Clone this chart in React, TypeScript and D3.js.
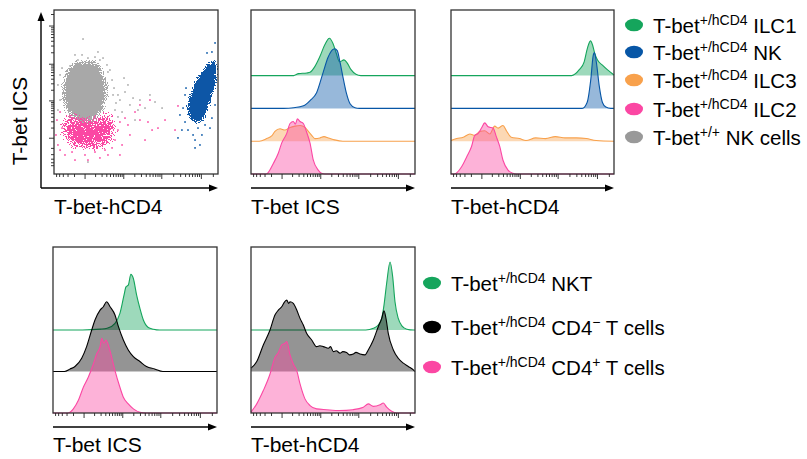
import React from 'react';
import * as d3 from 'd3';

type Pt = [number, number];

// histogram traces: [position on axis 0-100, height in % of two row heights]
const ILC1_ICS: Pt[] = [[0,0],[26,0],[29,3],[34,4],[36,5],[39,14],[42,29],[45,47],[47.8,57],[50,49],[52,34],[54,21],[56.7,24],[58.7,19],[61,9],[64,2],[67,0],[100,0]];
const NK_ICS: Pt[] = [[0,0],[20,0],[26,1],[32,4],[36,12],[40,24],[44,55],[47,78],[50,90],[51,91],[52.6,88],[54.3,70],[56.3,45],[58.3,22],[60.4,7],[63.4,1],[66,0],[100,0]];
const ILC3_ICS: Pt[] = [[0,0],[5,0],[9.6,4],[12.6,8],[14.6,15],[17.7,19],[20.7,17],[23.8,21],[26.8,23],[29.9,24],[32.9,21],[35,15],[37,9],[39,4],[42,5],[44.5,7],[47.2,5],[51,2],[56,0],[100,0]];
const ILC2_ICS: Pt[] = [[0,0],[9,0],[10,1],[13.6,16],[16.7,32],[18.7,47],[21.8,62],[23.8,77],[25.8,80],[27,76],[28.3,84],[29.9,80],[31.9,77],[33.9,64],[36,47],[38,21],[41,6],[43,1],[45,0],[100,0]];

const ILC1_HCD4: Pt[] = [[0,0],[74,0],[78.7,9],[81.7,21],[83.7,42],[85.6,53],[86.8,47],[88.2,34],[89.8,24],[92.9,16],[95.9,9],[100,1]];
const NK_HCD4: Pt[] = [[0,0],[80.5,0],[83.5,9],[85.8,45],[87.2,80],[88,85],[89.2,70],[90.9,35],[92.9,9],[95,2],[98,0],[100,0]];
const ILC3_HCD4: Pt[] = [[0,1],[3.5,4],[7.5,6],[11.6,11],[14.6,9],[17.7,15],[20.7,16],[23.8,11],[26.8,23],[28.9,20],[31.9,24],[34,16],[37,6],[42,4],[46,1],[52,5],[58,4],[64,7],[70,5],[77,5],[83,4],[89,1],[100,0]];
const ILC2_HCD4: Pt[] = [[0,0],[2,0],[6.5,11],[9.6,26],[12.6,42],[14.6,59],[16.7,62],[18.7,70],[20.7,78],[22.8,72],[25.8,70],[27.8,57],[29.9,42],[31.9,21],[35,6],[38,1],[40,0],[100,0]];

const NKT_ICS: Pt[] = [[0,0],[18,0],[29,1],[33,2],[37.8,8],[40.8,20],[43.3,42],[44.5,52],[45.9,54],[47.5,67],[49,62],[51,42],[53,26],[55.1,12],[58.1,3],[61.2,1],[65,0],[100,0]];
const CD4NEG_ICS: Pt[] = [[0,0],[7,0],[10.4,3],[13.4,6],[17.5,16],[20.5,30],[23.6,50],[25.6,62],[28.7,74],[30.7,78],[32.7,84],[34.8,78],[37.8,68],[39.9,54],[42.9,38],[45.9,26],[49,18],[53,12],[57,6],[62,3],[67,0],[100,0]];
const CD4POS_ICS: Pt[] = [[0,0],[9,0],[12.4,5],[15.4,15],[18.5,31],[21.5,43],[24.6,59],[26.6,71],[28.7,80],[29.7,90],[31.1,84],[32.3,88],[33.7,82],[35.8,67],[37.8,51],[40.8,31],[42.9,19],[45.9,11],[49,5],[53,1],[57,0],[100,0]];

const NKT_HCD4: Pt[] = [[0,0],[70,0],[74.6,2],[77.6,6],[79.7,14],[81.1,30],[82.7,56],[84.8,82],[86.4,64],[87.8,34],[89.8,14],[92,5],[95,1],[99,0],[100,0]];
const CD4NEG_HCD4: Pt[] = [[0,4],[3.5,12],[7.5,32],[11.6,50],[14.6,68],[16.7,74],[18.7,78],[20.5,84],[21.8,86],[23,82],[23.8,84],[25.8,82],[27.9,74],[29.9,64],[31.9,56],[33.9,46],[37,38],[40,30],[42,31],[44.1,30],[47.2,28],[48.5,30],[50.2,24],[52,25],[54.3,22],[56,24],[58.3,23],[60,20],[62.4,21],[64,23],[66.5,21],[69.5,20],[71.5,26],[74.6,38],[77.6,54],[79.7,64],[81.1,73],[82.3,64],[83.7,46],[86.8,26],[89.8,16],[92.9,10],[95.9,6],[99,2],[100,0]];
const CD4POS_HCD4: Pt[] = [[0,1],[3.5,11],[7.5,27],[11.6,47],[14.6,67],[16.7,73],[18.7,82],[20.7,84],[21.8,86],[23.8,70],[25.8,59],[27.9,51],[29.9,35],[32.9,17],[36,9],[40,5],[46,4],[54,3],[62,4],[68.5,7],[71.5,11],[74.6,8],[78.7,10],[80.7,12],[82.7,7],[85.8,2],[88.8,0],[100,0]];

// scatter (T-bet-hCD4 vs T-bet ICS), axis units 0-100
const NKCELLS_CORE: Pt[] = [[17.7,69.3],[23.2,69.3],[28,66.2],[31.6,58.5],[32.8,50],[31,41.5],[26.1,34.1],[20.1,30.1],[14,31.9],[8.5,36.8],[5,46.3],[5,54.3],[7.4,62.2],[12.2,68.1]];
const ILC2_CORE: Pt[] = [[8.5,37],[15.9,35.1],[25,33.9],[31.1,38.2],[36.4,35.1],[38,26.8],[34.9,18.5],[26,14.9],[15.9,15.5],[8.5,17.9],[4.4,25],[5,31.7]];
const NK_CORE: Pt[] = [[87.2,31.1],[82.9,34.1],[81.1,40.2],[82.9,48.2],[86.6,57.3],[91.5,64.6],[95.7,68.9],[98.8,69.5],[99.4,64.6],[98.8,56.1],[96.3,46.3],[93.3,37.8],[90.9,32.3]];
const NKCELLS_DOTS: Pt[] = [[17.7,82.3],[17.1,72.6],[25,71.3],[14.6,69.5],[29.9,70.7],[34.1,63.4],[35.4,57.3],[36.6,52.4],[39,48.2],[40.2,45.1],[43.3,50],[46.3,42.1],[45.1,54.3],[48.2,46.3],[52.4,45.1],[55.5,40.2],[51.2,39],[58.5,48.2],[61.6,43.9],[3.7,60.4],[2.4,54.3],[3.7,45.1],[2.4,39],[37.2,39],[39,34.8],[41.5,37.8],[28,69.5],[20.7,70.7],[9.8,65.9],[32.3,66.5],[49.4,32.9],[65.9,40.2],[20.7,7.3],[32.9,62.2],[36,48.2],[37.8,43.3],[4.9,64.6],[12.8,72.6],[26.8,74.4],[42.7,58.5]];
const ILC2_DOTS: Pt[] = [[3.7,37.8],[1.8,32.9],[4.9,28],[1.2,23.8],[2.4,17.7],[3.7,14.6],[6.7,11.6],[11,13.4],[18.9,11.6],[25,13.4],[31.1,14.6],[35.4,15.9],[37.2,20.7],[39,26.8],[40.2,31.7],[43.3,34.1],[45.1,29.9],[46.3,23.8],[41.5,17.7],[49.4,37.8],[52.4,32.9],[57.3,31.7],[59.8,26.8],[63.4,28],[67.7,32.9],[55.5,20.7],[40.2,11.6],[28,9.8],[12.8,8.5],[52.4,42.1],[58.5,45.1],[75.6,41.5],[73.8,26.8],[32.9,11.6],[20.7,8.5]];
const NK_DOTS: Pt[] = [[98.2,79.9],[93.3,73.8],[96.3,74.4],[79.9,48.2],[78.7,40.2],[76.8,36],[79.9,31.7],[81.7,26.8],[84.8,23.8],[86,20.7],[87.8,28],[90.2,23.8],[92.1,29.9],[96.3,34.1],[98.2,42.1],[80.5,52.4],[78,26.8],[86,15.9],[75.6,22],[89,17.7],[95.1,28]];

// axis ticks (fluorescence units on a biexponential-like axis)
const MAJOR_TICKS = [0, 1000, 10000, 100000];
const MINOR_TICKS = [-500,-400,-300,-200,-100,100,200,300,400,500,600,700,800,900,2000,3000,4000,5000,6000,7000,8000,9000,20000,30000,40000,50000,60000,70000,80000,90000,200000];

const TOP_LEGEND = [
  {sup: '+/hCD4', name: ' ILC1'},
  {sup: '+/hCD4', name: ' NK'},
  {sup: '+/hCD4', name: ' ILC3'},
  {sup: '+/hCD4', name: ' ILC2'},
  {sup: '+/+', name: ' NK cells'},
];
const BOTTOM_LEGEND = [
  {sup: '+/hCD4', name: ' NKT'},
  {sup: '+/hCD4', name: ' CD4', sup2: '\u2212', tail: ' T cells'},
  {sup: '+/hCD4', name: ' CD4', sup2: '+', tail: ' T cells'},
];

const C = {
  green: '#15a55c',
  blue: '#0756a6',
  orange: '#f8a14c',
  pink: '#fb47a3',
  gray: '#a8a8a8',
  black: '#000000',
};
const FONT = '"Liberation Sans", Arial, Helvetica, sans-serif';

function Ticks({x0, x1, y, lo}: {x0: number; x1: number; y: number; lo: number}) {
  const t = d3.scaleSymlog().constant(119).domain([lo, 262144]).range([x0, x1]);
  return (
    <g stroke="#222" strokeWidth={0.9}>
      {MINOR_TICKS.map((v) => (
        <line key={'m' + v} x1={t(v)} x2={t(v)} y1={y} y2={y + 3} />
      ))}
      {MAJOR_TICKS.map((v) => (
        <line key={'M' + v} x1={t(v)} x2={t(v)} y1={y} y2={y + 5} />
      ))}
    </g>
  );
}

function ArrowH({x0, x1, y}: {x0: number; x1: number; y: number}) {
  return (
    <g>
      <line x1={x0} x2={x1 - 6} y1={y} y2={y} stroke="#000" strokeWidth={1.4} />
      <path d={`M${x1},${y}L${x1 - 9},${y - 3.5}L${x1 - 9},${y + 3.5}Z`} fill="#000" />
    </g>
  );
}

function Hist({x0, y0, w, h, series, label, labelY, arrowY}: {
  x0: number; y0: number; w: number; h: number;
  series: {data: Pt[]; color: string}[]; label: string; labelY: number; arrowY: number;
}) {
  const n = series.length;
  const rowH = h / (n + 1);
  const xs = d3.scaleLinear().domain([0, 100]).range([x0, x0 + w]);
  const hs = d3.scaleLinear().domain([0, 100]).range([0, 2 * rowH]);
  return (
    <g>
      {series.map((s, i) => {
        const base = y0 + h - (n - 1 - i) * rowH;
        const area = d3.area<Pt>().x((d) => xs(d[0])).y0(base).y1((d) => base - hs(d[1])).curve(d3.curveMonotoneX);
        const line = d3.line<Pt>().x((d) => xs(d[0])).y((d) => base - hs(d[1])).curve(d3.curveMonotoneX);
        return (
          <g key={i}>
            <path d={area(s.data) || ''} fill={s.color} fillOpacity={0.42} />
            <path d={line(s.data) || ''} fill="none" stroke={s.color} strokeWidth={1.1} />
          </g>
        );
      })}
      <rect x={x0} y={y0} width={w} height={h} fill="none" stroke="#333" strokeWidth={1.3} />
      <Ticks x0={x0} x1={x0 + w} y={y0 + h} lo={-600} />
      <ArrowH x0={x0} x1={x0 + w} y={arrowY} />
      <text x={x0} y={labelY} fontSize={21} fontFamily={FONT}>{label}</text>
    </g>
  );
}

// speckled density: blurred shape alpha minus noise, thresholded
function Speckle({id, color, blur, seed, gain, cut}: {id: string; color: string; blur: number; seed: number; gain: number; cut: number}) {
  return (
    <filter id={id} x="-30%" y="-30%" width="160%" height="160%">
      <feGaussianBlur in="SourceAlpha" stdDeviation={blur} result="dens" />
      <feTurbulence type="fractalNoise" baseFrequency={1.1} numOctaves={2} seed={seed} result="noise" />
      <feColorMatrix in="noise" type="matrix" values="0 0 0 0 0  0 0 0 0 0  0 0 0 0 0  3 0 0 0 -1" result="nA" />
      <feComposite in="dens" in2="nA" operator="arithmetic" k1={0} k2={gain} k3={-cut} k4={0} result="mix" />
      <feComponentTransfer in="mix" result="mask">
        <feFuncA type="discrete" tableValues="0 1" />
      </feComponentTransfer>
      <feFlood floodColor={color} result="col" />
      <feComposite in="col" in2="mask" operator="in" />
    </filter>
  );
}

function Scatter() {
  const x0 = 54, x1 = 218, y0 = 10, y1 = 174;
  const xs = d3.scaleLinear().domain([0, 100]).range([x0, x1]);
  const ys = d3.scaleLinear().domain([0, 100]).range([y1, y0]);
  const ty = d3.scaleSymlog().constant(119).domain([-900, 262144]).range([y1, y0]);
  const blob = d3.line<Pt>().x((d) => xs(d[0])).y((d) => ys(d[1])).curve(d3.curveCatmullRomClosed);
  const dots = (pts: Pt[], color: string, key: string) =>
    pts.map((d, i) => (
      <rect key={key + i} x={xs(d[0]) - 0.8} y={ys(d[1]) - 0.8} width={1.6} height={1.6} fill={color} />
    ));
  return (
    <g>
      <defs>
        <Speckle id="spk-gray" color={C.gray} blur={4} seed={3} gain={1.5} cut={0.75} />
        <Speckle id="spk-pink" color={C.pink} blur={6} seed={7} gain={1.35} cut={0.85} />
        <Speckle id="spk-blue" color={C.blue} blur={2.5} seed={11} gain={1.5} cut={0.75} />
      </defs>
      <path d={blob(NKCELLS_CORE) || ''} fill="#000" filter="url(#spk-gray)" />
      <path d={blob(ILC2_CORE) || ''} fill="#000" filter="url(#spk-pink)" />
      <path d={blob(NK_CORE) || ''} fill="#000" filter="url(#spk-blue)" />
      {dots(NKCELLS_DOTS, C.gray, 'g')}
      {dots(ILC2_DOTS, C.pink, 'p')}
      {dots(NK_DOTS, C.blue, 'b')}
      <rect x={x0} y={y0} width={x1 - x0} height={y1 - y0} fill="none" stroke="#333" strokeWidth={1.3} />
      <Ticks x0={x0} x1={x1} y={y1} lo={-600} />
      <g stroke="#222" strokeWidth={0.9}>
        {MINOR_TICKS.map((v) => (
          <line key={'ym' + v} x1={x0} x2={x0 - 3} y1={ty(v)} y2={ty(v)} />
        ))}
        {MAJOR_TICKS.map((v) => (
          <line key={'yM' + v} x1={x0} x2={x0 - 5} y1={ty(v)} y2={ty(v)} />
        ))}
      </g>
      <line x1={41} x2={41} y1={188} y2={19} stroke="#000" strokeWidth={1.4} />
      <path d="M41,12L37.5,21L44.5,21Z" fill="#000" />
      <ArrowH x0={41} x1={x1} y={188} />
      <text x={x0} y={214} fontSize={21} fontFamily={FONT}>T-bet-hCD4</text>
      <text transform="translate(27,121) rotate(-90)" textAnchor="middle" fontSize={21} fontFamily={FONT}>T-bet ICS</text>
    </g>
  );
}

function Legend({x, ys, items, colors}: {
  x: number; ys: number[]; colors: string[];
  items: {sup: string; name: string; sup2?: string; tail?: string}[];
}) {
  return (
    <g fontFamily={FONT}>
      {items.map((it, i) => (
        <g key={i}>
          <ellipse cx={x} cy={ys[i]} rx={9} ry={6.3} fill={colors[i]} />
          <text x={x + 19} y={ys[i] + 7.5} fontSize={20.5}>
            T-bet
            <tspan fontSize={14} dy={-7.5}>{it.sup}</tspan>
            <tspan dy={7.5}>{it.name}</tspan>
            {it.sup2 ? <tspan fontSize={14} dy={-7.5}>{it.sup2}</tspan> : null}
            {it.tail ? <tspan dy={7.5}>{it.tail}</tspan> : null}
          </text>
        </g>
      ))}
    </g>
  );
}

export default function App() {
  return (
    <svg width={807} height={459} style={{position: 'absolute', left: 0, top: 0, background: '#fff'}}>
      <Scatter />
      <Hist x0={251} y0={10} w={164} h={164} label="T-bet ICS" labelY={214} arrowY={188}
        series={[{data: ILC1_ICS, color: C.green}, {data: NK_ICS, color: C.blue}, {data: ILC3_ICS, color: C.orange}, {data: ILC2_ICS, color: C.pink}]} />
      <Hist x0={451} y0={10} w={163} h={164} label="T-bet-hCD4" labelY={214} arrowY={188}
        series={[{data: ILC1_HCD4, color: C.green}, {data: NK_HCD4, color: C.blue}, {data: ILC3_HCD4, color: C.orange}, {data: ILC2_HCD4, color: C.pink}]} />
      <Hist x0={53} y0={247} w={164} h={166} label="T-bet ICS" labelY={452} arrowY={427}
        series={[{data: NKT_ICS, color: C.green}, {data: CD4NEG_ICS, color: C.black}, {data: CD4POS_ICS, color: C.pink}]} />
      <Hist x0={251} y0={247} w={164} h={166} label="T-bet-hCD4" labelY={452} arrowY={427}
        series={[{data: NKT_HCD4, color: C.green}, {data: CD4NEG_HCD4, color: C.black}, {data: CD4POS_HCD4, color: C.pink}]} />
      <Legend x={634} ys={[25, 52, 80, 109, 137]} items={TOP_LEGEND}
        colors={[C.green, C.blue, C.orange, C.pink, '#999999']} />
      <Legend x={432} ys={[283, 327, 367]} items={BOTTOM_LEGEND}
        colors={[C.green, C.black, C.pink]} />
    </svg>
  );
}
